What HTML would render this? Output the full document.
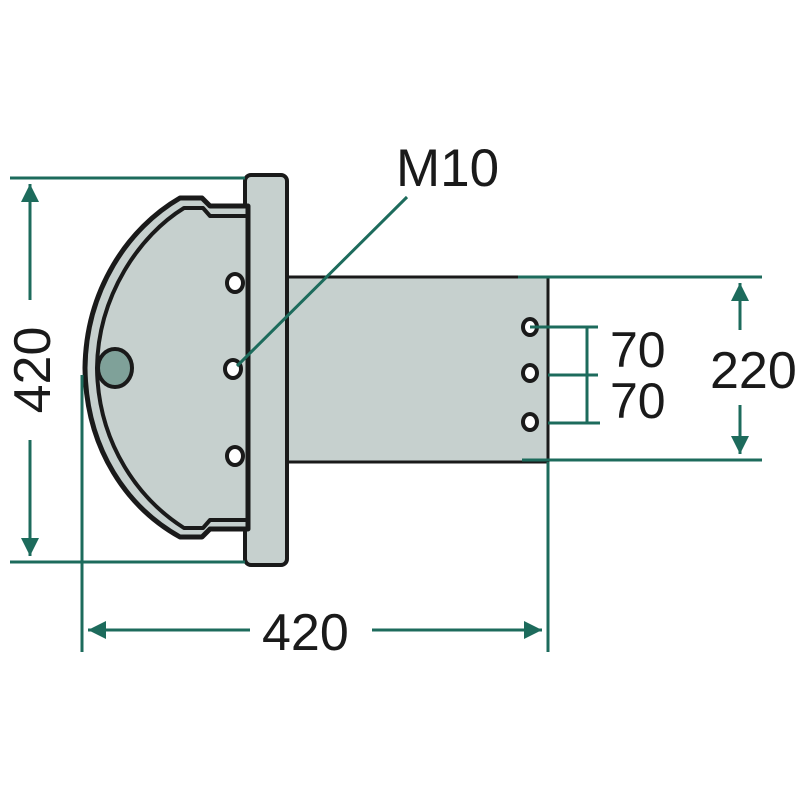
<!DOCTYPE html>
<html><head><style>body{margin:0;background:#fff}svg{display:block}</style></head><body>
<svg width="800" height="800" viewBox="0 0 800 800" xmlns="http://www.w3.org/2000/svg">
<defs>
<marker id="a" viewBox="0 0 10 10" refX="10" refY="5" markerWidth="7" markerHeight="6" orient="auto-start-reverse" markerUnits="strokeWidth"><path d="M0,0 L10,5 L0,10 z" fill="#1d6b5c"/></marker>
</defs>
<g fill="#c6d0ce" stroke="#1a1a1a" stroke-width="4" stroke-linejoin="round">
<path d="M285,277 H548 V462 H285 Z" stroke-width="3"/>
<rect x="245" y="175" width="42" height="390" rx="6"/>
<path d="M248,206 H210 L202,198 H180 C128,228 86,290 85,368 C86,450 128,508 180,537 H202 L210,529 H248 Z" stroke-width="5"/>
<path d="M248,216 H210 L203,208 H184 C140,235 98,295 97,368 C98,445 140,500 184,528 H203 L210,520 H248 Z"/>
</g>
<line x1="248" y1="206" x2="248" y2="529" stroke="#1a1a1a" stroke-width="5"/>
<g fill="#fff" stroke="#1a1a1a" stroke-width="4">
<ellipse cx="235" cy="283" rx="8" ry="9"/>
<ellipse cx="233" cy="369" rx="8" ry="9"/>
<ellipse cx="235" cy="456" rx="8" ry="9"/>
<ellipse cx="530" cy="327" rx="7" ry="8"/>
<ellipse cx="530" cy="373" rx="7" ry="8"/>
<ellipse cx="530" cy="422" rx="7" ry="8"/>
</g>
<ellipse cx="115" cy="368" rx="17" ry="19" fill="#7fa199" stroke="#1a1a1a" stroke-width="4"/>
<g stroke="#1d6b5c" stroke-width="3" fill="none">
<line x1="10" y1="178" x2="245" y2="178"/>
<line x1="10" y1="562" x2="245" y2="562"/>
<line x1="30" y1="300" x2="30" y2="184" marker-end="url(#a)"/>
<line x1="30" y1="440" x2="30" y2="556" marker-end="url(#a)"/>
<line x1="82" y1="375" x2="82" y2="652"/>
<line x1="548" y1="462" x2="548" y2="652"/>
<line x1="250" y1="630" x2="88" y2="630" marker-end="url(#a)"/>
<line x1="372" y1="630" x2="542" y2="630" marker-end="url(#a)"/>
<line x1="518" y1="277" x2="762" y2="277"/>
<line x1="522" y1="460" x2="762" y2="460"/>
<line x1="740" y1="330" x2="740" y2="283" marker-end="url(#a)"/>
<line x1="740" y1="405" x2="740" y2="454" marker-end="url(#a)"/>
<line x1="530" y1="327" x2="598" y2="327"/>
<line x1="548" y1="375" x2="598" y2="375"/>
<line x1="548" y1="423" x2="600" y2="423"/>
<line x1="587" y1="327" x2="587" y2="423"/>
<line x1="407" y1="197" x2="237" y2="366"/>
</g>
<g font-family="Liberation Sans, sans-serif" fill="#1a1a1a" font-size="52">
<text x="396" y="186" font-size="53">M10</text>
<text x="262" y="650">420</text>
<text x="710" y="388">220</text>
<text x="610" y="367" font-size="50">70</text>
<text x="610" y="418" font-size="50">70</text>
<text transform="translate(50,370) rotate(-90)" text-anchor="middle">420</text>
</g>
</svg>
</body></html>
